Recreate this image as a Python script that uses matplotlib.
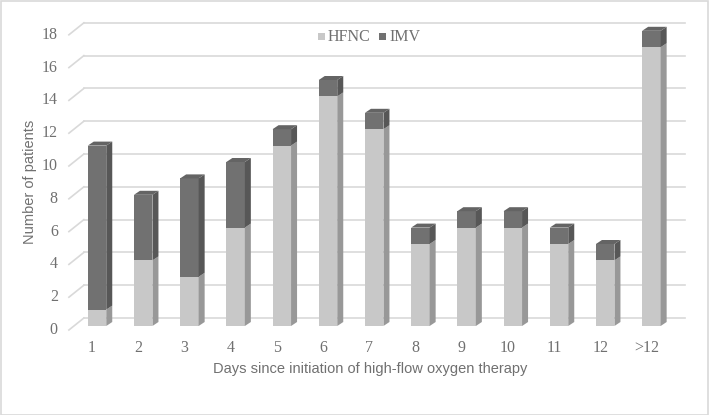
import matplotlib
matplotlib.use("Agg")
import matplotlib.pyplot as plt
from matplotlib.patches import Polygon, Rectangle

categories = ["1", "2", "3", "4", "5", "6", "7", "8", "9", "10", "11", "12", ">12"]
hfnc = [1, 4, 3, 6, 11, 14, 12, 5, 6, 6, 5, 4, 17]
imv = [10, 4, 6, 4, 1, 1, 1, 1, 1, 1, 1, 1, 1]
yticks = [0, 2, 4, 6, 8, 10, 12, 14, 16, 18]

W, H = 709, 415
fig = plt.figure(figsize=(W / 100, H / 100), dpi=100)
ax = fig.add_axes([0, 0, 1, 1])
ax.set_axis_off()

# pixel mapping for layout
x0_px, xstep = 92, 46.2
y0_px, ystep = 330, 16.4
ax.set_xlim(-x0_px / xstep, (W - x0_px) / xstep)
ax.set_ylim(-(H - y0_px) / ystep, y0_px / ystep)

# 3D offsets (data units)
wall_dx, wall_dy = 15 / xstep, 12 / ystep
bar_fx, bar_fy = 5 / xstep, 4 / ystep
dep_dx, dep_dy = 6 / xstep, 4 / ystep
bw = 18.5 / xstep

grid_c = "#d9d9d9"
txt_c = "#707070"
n = len(categories)
xl, xr = -0.5, n - 0.5

# gridlines: back wall + left diagonals
for v in yticks:
    ax.plot([xl + wall_dx, xr + wall_dx], [v + wall_dy, v + wall_dy], color=grid_c, lw=1.2, zorder=1)
    ax.plot([xl, xl + wall_dx], [v, v + wall_dy], color=grid_c, lw=1.2, zorder=1)
    ax.text(xl - 0.24, v, str(v), ha="right", va="center", fontsize=11.5,
            family="Liberation Serif", color=txt_c)

cols = {"hfnc": ("#c8c8c8", "#989898", "#b4b4b4"),
        "imv": ("#717171", "#575757", "#646464")}


def seg(xc, y0, y1, colset, top):
    front, side, topc = colset
    left = xc - bw / 2 + bar_fx
    right = left + bw
    b = y0 + bar_fy
    t = y1 + bar_fy
    ax.add_patch(Rectangle((left, b), bw, t - b, facecolor=front, edgecolor="none", zorder=3))
    ax.add_patch(Polygon([(right, b), (right + dep_dx, b + dep_dy), (right + dep_dx, t + dep_dy), (right, t)],
                         closed=True, facecolor=side, edgecolor="none", zorder=3))
    if top:
        ax.add_patch(Polygon([(left, t), (right, t), (right + dep_dx, t + dep_dy), (left + dep_dx, t + dep_dy)],
                             closed=True, facecolor=topc, edgecolor="none", zorder=3))


for i, (h, m) in enumerate(zip(hfnc, imv)):
    seg(i, 0, h, cols["hfnc"], m == 0)
    if m:
        seg(i, h, h + m, cols["imv"], True)
    ax.text(i, -1.1, categories[i], ha="center", va="center", fontsize=11.5,
            family="Liberation Serif", color=txt_c)

# axis titles
fig.text(370 / W, 1 - 369 / H, "Days since initiation of high-flow oxygen therapy", ha="center", va="center",
         fontsize=10.5, family="Liberation Sans", color=txt_c)
fig.text(30 / W, 1 - 182 / H, "Number of patients", ha="center", va="center", rotation=90,
         fontsize=10.5, family="Liberation Sans", color=txt_c)

# legend
leg_y = 1 - 37 / H
for xs, c, lab in [(321, cols["hfnc"][0], "HFNC"), (382, cols["imv"][0], "IMV")]:
    fig.patches.append(Rectangle((xs / W - 3.5 / W, leg_y - 3.5 / H), 7 / W, 7 / H, facecolor=c,
                                 edgecolor="none", transform=fig.transFigure, figure=fig))
    fig.text((xs + 7) / W, leg_y, lab, ha="left", va="center", fontsize=11.5,
             family="Liberation Serif", color=txt_c)

# figure border
fig.patches.append(Rectangle((0.5 / W, 0.5 / H), 1 - 2 / W, 1 - 2 / H, facecolor="none",
                             edgecolor="#d9d9d9", lw=1.2, transform=fig.transFigure, figure=fig))

fig.savefig("out.png", dpi=100, facecolor="white")
